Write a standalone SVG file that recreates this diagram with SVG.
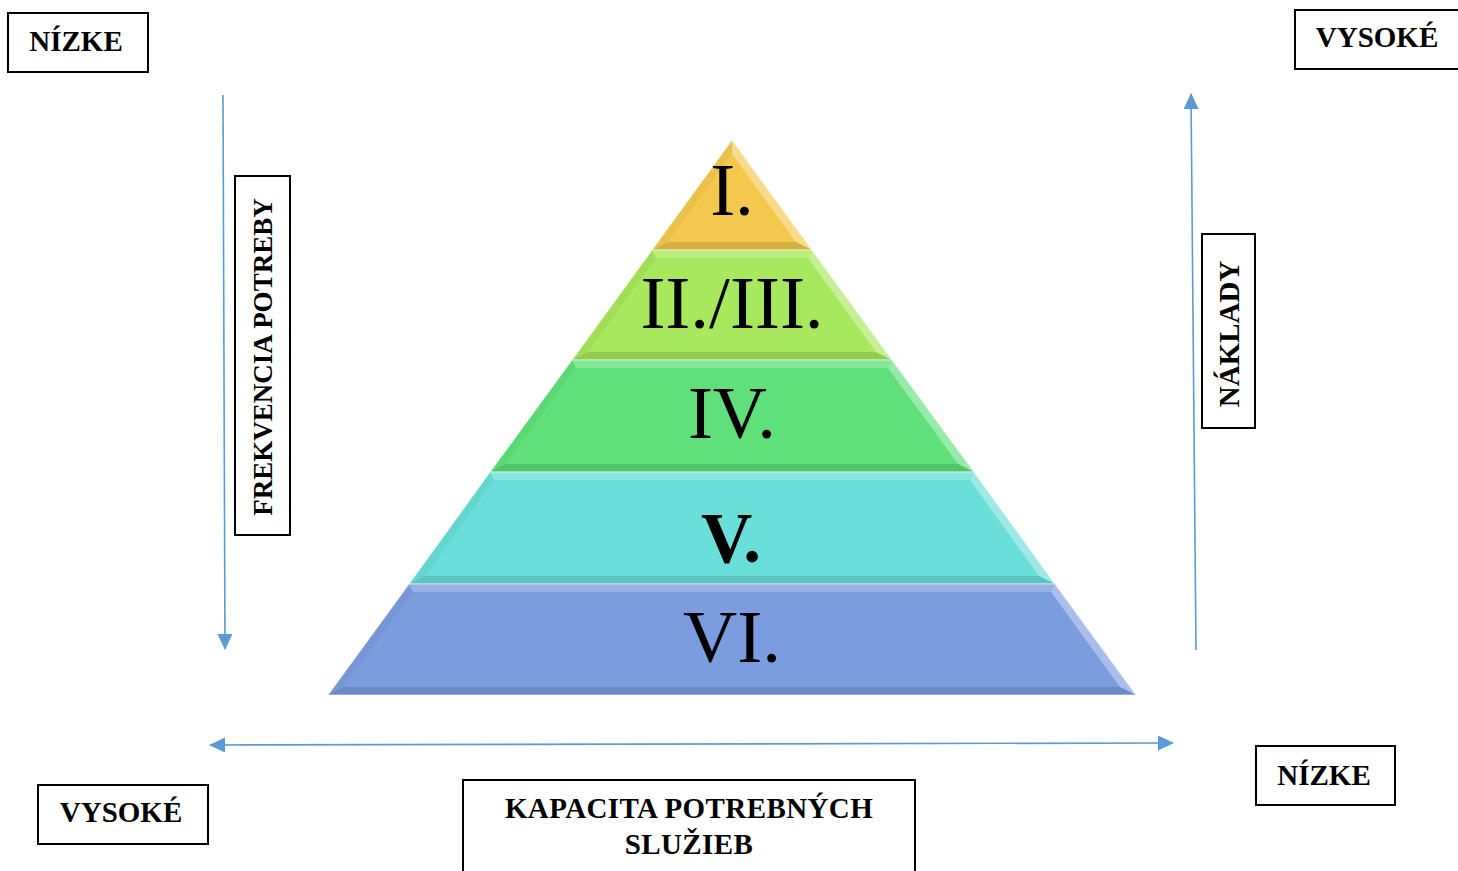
<svg xmlns="http://www.w3.org/2000/svg" width="1458" height="871" viewBox="0 0 1458 871">
<style>
.box{fill:#fff;stroke:#000;stroke-width:2}
.lbl{font-family:"Liberation Serif","Times New Roman",serif;font-weight:bold;font-size:29px;fill:#000;text-anchor:middle}
.num{font-family:"Liberation Serif","Times New Roman",serif;font-size:75px;fill:#000;text-anchor:middle}
.arr{stroke:#5B9BD5;stroke-width:1.6;fill:none}
.hl{fill:#fff;opacity:.35}
.hl2{fill:#fff;opacity:.22}
.sh{fill:#000;opacity:.12}
.sh2{fill:#000;opacity:.04}
.edge{fill:none;stroke:#fff;stroke-opacity:.55;stroke-width:1.2}
</style>
<defs>
<marker id="ah" viewBox="0 0 16 15" refX="15" refY="7.5" markerWidth="16" markerHeight="15" markerUnits="userSpaceOnUse" orient="auto-start-reverse">
<path d="M0,0 L16,7.5 L0,15 Z" fill="#5B9BD5"/>
</marker>
</defs>
<rect width="1458" height="871" fill="#fff"/>

<g id="connectors">
<line class="arr" x1="223" y1="95" x2="225" y2="649" marker-end="url(#ah)"/>
<line class="arr" x1="1196" y1="650" x2="1191" y2="94" marker-end="url(#ah)"/>
<line class="arr" x1="210" y1="745" x2="1173" y2="743" marker-start="url(#ah)" marker-end="url(#ah)"/>
</g>

<g id="band-1">
<polygon points="732,140 812,250 652,250" fill="#F3C84C"/>
<polygon class="hl" points="732,140 812,250 796,242 732,154"/>
<polygon class="sh" points="812,250 652,250 668,242 796,242"/>
<polygon class="sh2" points="652,250 732,140 732,154 668,242"/>
<polygon class="edge" points="732,140 812,250 652,250"/>
<text class="num" x="732" y="215">I.</text>
</g>

<g id="band-2">
<polygon points="652,250 812,250 892,360 572,360" fill="#A8E85C"/>
<polygon class="hl2" points="652,250 812,250 808,258 656,258"/>
<polygon class="hl" points="812,250 892,360 876,352 808,258"/>
<polygon class="sh" points="892,360 572,360 588,352 876,352"/>
<polygon class="sh2" points="572,360 652,250 656,258 588,352"/>
<polygon class="edge" points="652,250 812,250 892,360 572,360"/>
<text class="num" x="732" y="328">II./III.</text>
</g>

<g id="band-3">
<polygon points="572,360 892,360 974,472 490,472" fill="#60E07A"/>
<polygon class="hl2" points="572,360 892,360 888,368 576,368"/>
<polygon class="hl" points="892,360 974,472 958,464 888,368"/>
<polygon class="sh" points="974,472 490,472 506,464 958,464"/>
<polygon class="sh2" points="490,472 572,360 576,368 506,464"/>
<polygon class="edge" points="572,360 892,360 974,472 490,472"/>
<text class="num" x="732" y="438">IV.</text>
</g>

<g id="band-4">
<polygon points="490,472 974,472 1055,584 409,584" fill="#6ADED9"/>
<polygon class="hl2" points="490,472 974,472 970,480 494,480"/>
<polygon class="hl" points="974,472 1055,584 1039,576 970,480"/>
<polygon class="sh" points="1055,584 409,584 425,576 1039,576"/>
<polygon class="sh2" points="409,584 490,472 494,480 425,576"/>
<polygon class="edge" points="490,472 974,472 1055,584 409,584"/>
<text class="num" x="731" y="562" style="font-weight:bold;font-size:71px">V.</text>
</g>

<g id="band-5">
<polygon points="409,584 1055,584 1136,695 328,695" fill="#7B9DDF"/>
<polygon class="hl2" points="409,584 1055,584 1051,592 413,592"/>
<polygon class="hl" points="1055,584 1136,695 1120,687 1051,592"/>
<polygon class="sh" points="1136,695 328,695 344,687 1120,687"/>
<polygon class="sh2" points="328,695 409,584 413,592 344,687"/>
<polygon class="edge" points="409,584 1055,584 1136,695 328,695"/>
<text class="num" x="732" y="662">VI.</text>
</g>

<g id="nizke-top">
<rect class="box" x="8" y="13" width="140" height="59"/>
<text class="lbl" x="76" y="51">NÍZKE</text>
</g>

<g id="vysoke-top">
<rect class="box" x="1295" y="10" width="170" height="59"/>
<text class="lbl" x="1377" y="47">VYSOKÉ</text>
</g>

<g id="frekvencia">
<rect class="box" x="235" y="176" width="55" height="359"/>
<text class="lbl" transform="translate(272,357) rotate(-90)" x="0" y="0" style="font-size:27px">FREKVENCIA POTREBY</text>
</g>

<g id="naklady">
<rect class="box" x="1202" y="234" width="53" height="194"/>
<text class="lbl" transform="translate(1239,334) rotate(-90)" x="0" y="0">NÁKLADY</text>
</g>

<g id="nizke-bottom">
<rect class="box" x="1256" y="746" width="139" height="59"/>
<text class="lbl" x="1324" y="785">NÍZKE</text>
</g>

<g id="vysoke-bottom">
<rect class="box" x="38" y="785" width="170" height="59"/>
<text class="lbl" x="121" y="822">VYSOKÉ</text>
</g>

<g id="kapacita">
<rect class="box" x="463" y="780" width="452" height="100"/>
<text class="lbl" x="689" y="818" letter-spacing="0.4">KAPACITA POTREBNÝCH</text>
<text class="lbl" x="689" y="854" letter-spacing="0.4">SLUŽIEB</text>
</g>
</svg>
